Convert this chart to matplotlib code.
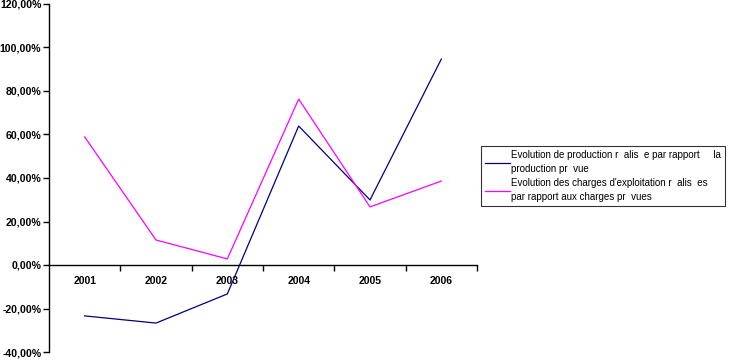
import numpy as np
import matplotlib.pyplot as plt
from matplotlib.ticker import FuncFormatter

plt.rcParams['font.family'] = ['Liberation Sans', 'DejaVu Sans']

years = ['2001', '2002', '2003', '2004', '2005', '2006']
prod = [-23.4, -26.7, -13.3, 63.9, 29.9, 94.7]
charges = [58.9, 11.5, 2.8, 76.3, 26.7, 38.6]
labels = ['Evolution de production r  alis  e par rapport     la\nproduction pr  vue',
          "Evolution des charges d'exploitation r  alis  es\npar rapport aux charges pr  vues"]

fig = plt.figure(figsize=(7.29, 3.6), dpi=100)
ax = fig.add_axes([49/729, 1-352/360, (477-49)/729, 348/360])

x = np.arange(len(years))
l1, = ax.plot(x, prod, color='#000080', lw=0.9)
l2, = ax.plot(x, charges, color='#FF00FF', lw=0.9)

ax.set_xlim(-0.5, 5.5)
ax.set_ylim(-40, 120)
ax.set_yticks(np.arange(-40, 121, 20))
ax.yaxis.set_major_formatter(FuncFormatter(lambda v, p: f'{v:.2f}%'.replace('.', ',')))
for t in ax.get_yticklabels():
    t.set_fontweight('bold')
ax.tick_params(axis='y', labelsize=7.6, length=4, width=1, pad=1.5)

ax.spines['top'].set_visible(False)
ax.spines['right'].set_visible(False)
ax.spines['bottom'].set_position(('data', 0))
ax.spines['left'].set_linewidth(1)
ax.spines['bottom'].set_linewidth(1)

ax.set_xticks(np.arange(0.5, 6, 1))
ax.set_xticklabels([])
ax.tick_params(axis='x', which='major', length=4, width=1, direction='out')
ax.set_xticks(x, minor=True)
ax.set_xticklabels(years, minor=True, fontsize=7.5, fontweight='bold')
ax.tick_params(axis='x', which='minor', length=0, pad=8)

leg = fig.legend([l1, l2], labels, loc='upper left', bbox_to_anchor=(481/729, 1-146/360),
                 fontsize=7, frameon=True, fancybox=False, handlelength=2.5,
                 handletextpad=0.15, borderpad=0.45, labelspacing=0.45, borderaxespad=0)
for t in leg.get_texts():
    t.set_linespacing(1.45)
leg.get_frame().set_edgecolor('black')
leg.get_frame().set_linewidth(0.8)

fig.savefig('out.png', dpi=100)
